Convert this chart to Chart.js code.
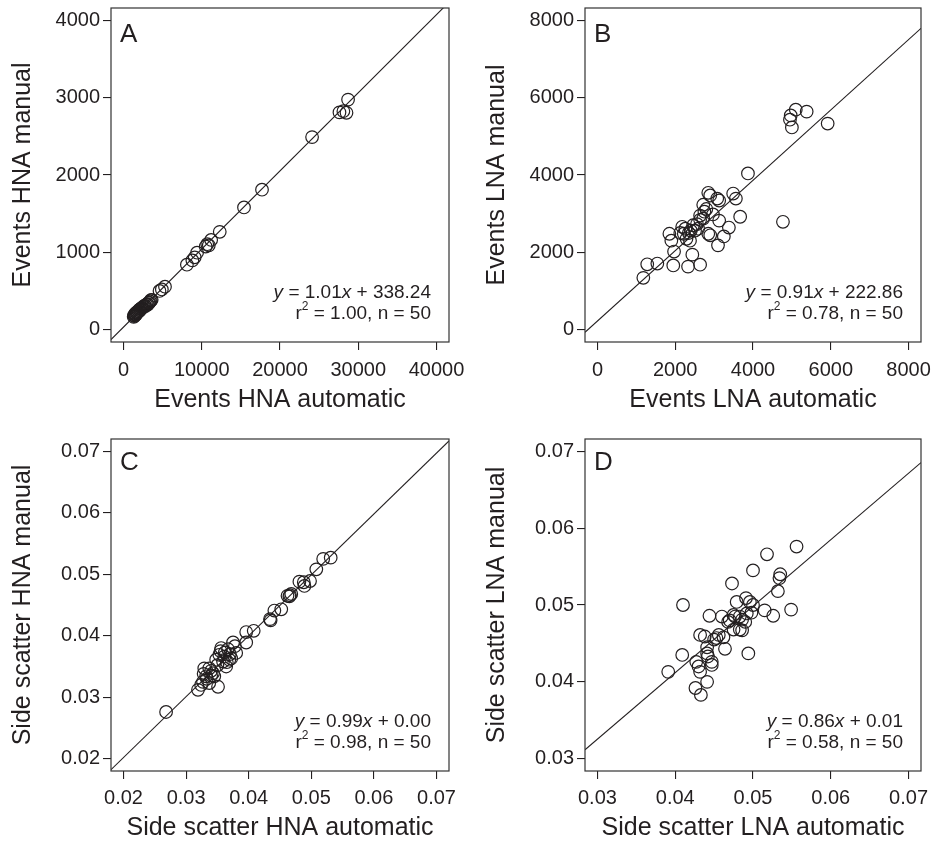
<!DOCTYPE html>
<html>
<head>
<meta charset="utf-8">
<script src="https://cdn.jsdelivr.net/npm/chart.js@4.4.1/dist/chart.umd.min.js"></script>
<style>
  html, body { margin: 0; padding: 0; background: #fff; }
  #wrap { position: relative; width: 935px; height: 842px; }
  #wrap canvas { position: absolute; }
</style>
</head>
<body>
<div id="wrap">
  <canvas id="panelA" width="467" height="420" style="left:0;top:0"></canvas>
  <canvas id="panelB" width="468" height="420" style="left:467px;top:0"></canvas>
  <canvas id="panelC" width="467" height="422" style="left:0;top:420px"></canvas>
  <canvas id="panelD" width="468" height="422" style="left:467px;top:420px"></canvas>
</div>
<script>
// Panel A - events HNA (automatic vs manual)
const aAuto = [28700, 27600, 28100, 28500, 24100, 17700, 15400, 12300, 11200, 10700,
  10900, 10500, 9400, 9100, 8800, 8100, 5300, 4900, 4600,
  1300, 1350, 1400, 1450, 1500, 1550, 1600, 1650, 1700, 1750, 1800, 1900, 1950, 2000,
  2100, 2150, 2200, 2300, 2400, 2500, 2600, 2700, 2800, 2900, 3000, 3100, 3200, 3300,
  3400, 3500, 3600];
const aManual = [2975, 2810, 2825, 2805, 2490, 1810, 1580, 1265, 1160, 1105,
  1090, 1075, 995, 935, 895, 840, 555, 520, 500,
  165, 185, 175, 200, 190, 210, 195, 220, 215, 230, 225, 240, 235, 255,
  250, 265, 270, 275, 280, 295, 300, 310, 305, 320, 330, 325, 345, 350,
  365, 380, 385];

// Panel B - events LNA
const bAuto = [5100, 5380, 4970, 4950, 5000, 5920, 3870, 4770, 2850, 2900,
  3490, 3560, 3080, 3130, 2720, 2750, 2970, 3670, 3130, 2640,
  2640, 2720, 3380, 3250, 3100, 2900, 2850, 2590, 2510, 2460,
  2380, 2350, 2260, 2220, 2180, 2130, 2290, 1850, 1900, 1970,
  2440, 1950, 2330, 2640, 1540, 1280, 1180, 2560, 2800, 2400];
const bManual = [5690, 5640, 5540, 5430, 5230, 5330, 4040, 2790, 3540, 3470,
  3520, 3390, 3390, 3340, 3230, 3050, 2980, 2920, 2820, 2950,
  2840, 2870, 2640, 2410, 2180, 2440, 2480, 2610, 2560, 2700,
  2300, 2500, 2610, 2480, 2660, 2500, 2350, 2480, 2300, 2020,
  1940, 1660, 1630, 1680, 1710, 1690, 1340, 2730, 3120, 2560];

// Panel C - side scatter HNA
const cAuto = [0.0268, 0.0531, 0.0519, 0.0508, 0.0498, 0.0488, 0.0481, 0.0489, 0.0466, 0.0462,
  0.0468, 0.0465, 0.0452, 0.0441, 0.0434, 0.0435, 0.0408, 0.0396, 0.0396, 0.0375,
  0.0356, 0.0367, 0.0353, 0.0361, 0.0372, 0.0380, 0.0364, 0.0348, 0.0369, 0.0359,
  0.0329, 0.0337, 0.0343, 0.0332, 0.0327, 0.0337, 0.0351, 0.0319, 0.0324, 0.0345,
  0.0340, 0.0333, 0.0350, 0.0362, 0.0370, 0.0355, 0.0340, 0.0328, 0.0365, 0.0378];
const cManual = [0.0276, 0.0527, 0.0525, 0.0508, 0.0489, 0.0487, 0.0488, 0.0481, 0.0466, 0.0465,
  0.0468, 0.0464, 0.0443, 0.0441, 0.0427, 0.0425, 0.0408, 0.0406, 0.0389, 0.0389,
  0.0380, 0.0378, 0.0369, 0.0366, 0.0363, 0.0372, 0.0350, 0.0361, 0.0361, 0.0358,
  0.0347, 0.0347, 0.0339, 0.0334, 0.0325, 0.0323, 0.0317, 0.0312, 0.0320, 0.0334,
  0.0343, 0.0330, 0.0352, 0.0373, 0.0370, 0.0375, 0.0335, 0.0338, 0.0357, 0.0383];

// Panel D - side scatter LNA
const dAuto = [0.0556, 0.0518, 0.0500, 0.0473, 0.0535, 0.0534, 0.0532, 0.0549, 0.0526, 0.0515,
  0.0410, 0.0491, 0.0496, 0.0500, 0.0479, 0.0498, 0.0492, 0.0460, 0.0444, 0.0475,
  0.0477, 0.0468, 0.0486, 0.0490, 0.0475, 0.0486, 0.0456, 0.0453, 0.0450, 0.0462,
  0.0432, 0.0438, 0.0441, 0.0464, 0.0409, 0.0494, 0.0442, 0.0427, 0.0430, 0.0432,
  0.0447, 0.0391, 0.0441, 0.0426, 0.0433, 0.0483, 0.0441, 0.0447, 0.0483, 0.0470];
const dManual = [0.0576, 0.0566, 0.0545, 0.0528, 0.0540, 0.0535, 0.0518, 0.0494, 0.0486, 0.0493,
  0.0500, 0.0509, 0.0504, 0.0500, 0.0504, 0.0490, 0.0489, 0.0485, 0.0486, 0.0487,
  0.0485, 0.0478, 0.0481, 0.0478, 0.0468, 0.0467, 0.0461, 0.0457, 0.0455, 0.0458,
  0.0461, 0.0459, 0.0445, 0.0443, 0.0435, 0.0437, 0.0433, 0.0426, 0.0420, 0.0413,
  0.0422, 0.0413, 0.0400, 0.0392, 0.0383, 0.0468, 0.0437, 0.0426, 0.0485, 0.0480];

// tick labels
const ticksAX = [0, 10000, 20000, 30000, 40000];
const ticksAY = [0, 1000, 2000, 3000, 4000];
const ticksB = [0, 2000, 4000, 6000, 8000];
const ticksC = [0.02, 0.03, 0.04, 0.05, 0.06, 0.07];
const ticksD = [0.03, 0.04, 0.05, 0.06, 0.07];

// fitted lines [slope, intercept]
const fitA = [0.101, 33.82];
const fitB = [0.91, 222.86];
const fitC = [0.99, 0.0004];
const fitD = [0.865, 0.0066];

const INK = '#231f20';
const FONT = "'Liberation Sans', Arial, Helvetica, sans-serif";

// draw the box, the panel letter and the regression text
const panelDecor = {
  id: 'panelDecor',
  afterDraw(chart, args, opts) {
    const ctx = chart.ctx;
    const a = chart.chartArea;
    ctx.save();
    ctx.strokeStyle = '#333';
    ctx.lineWidth = 1.2;
    ctx.strokeRect(a.left, a.top, a.right - a.left, a.bottom - a.top);

    ctx.fillStyle = INK;
    ctx.font = '26px ' + FONT;
    ctx.textBaseline = 'alphabetic';
    ctx.textAlign = 'left';
    ctx.fillText(opts.letter, a.left + 9, a.top + opts.letterDy);

    const lines = [
      [{ t: 'y', it: true }, { t: ' = ' + opts.slope }, { t: 'x', it: true }, { t: ' + ' + opts.icpt }],
      [{ t: 'r' }, { t: '2', sup: true }, { t: ' = ' + opts.r2 + ', n = 50' }]
    ];
    ctx.textBaseline = 'middle';
    const ys = [a.bottom - 49, a.bottom - 28];
    lines.forEach((segs, i) => {
      const fontOf = s => s.sup ? '12px ' + FONT : (s.it ? 'italic 19px ' : '19px ') + FONT;
      let w = 0;
      segs.forEach(s => { ctx.font = fontOf(s); w += ctx.measureText(s.t).width; });
      let x = a.right - 18 - w;
      segs.forEach(s => {
        ctx.font = fontOf(s);
        ctx.fillText(s.t, x, s.sup ? ys[i] - 7 : ys[i]);
        x += ctx.measureText(s.t).width;
      });
    });
    ctx.restore();
  }
};

function makePanel(id, cfg) {
  const pts = cfg.xs.map((x, i) => ({ x: x, y: cfg.ys[i] }));
  const [m, b] = cfg.fit;
  const fitLine = [
    { x: cfg.xmin, y: m * cfg.xmin + b },
    { x: cfg.xmax, y: m * cfg.xmax + b }
  ];
  const fmt = v => cfg.dec ? v.toFixed(cfg.dec) : String(v);
  const tickStyle = { color: INK, font: { family: FONT, size: 20 } };
  const gridStyle = { drawOnChartArea: false, drawTicks: true, tickLength: 8, color: INK, tickColor: INK, lineWidth: 1.1 };

  return new Chart(document.getElementById(id), {
    type: 'scatter',
    data: {
      datasets: [
        {
          type: 'line',
          data: fitLine,
          borderColor: INK,
          borderWidth: 1.1,
          pointRadius: 0,
          fill: false
        },
        {
          data: pts,
          pointStyle: 'circle',
          pointRadius: 6.3,
          pointBorderWidth: 1.2,
          pointBorderColor: INK,
          pointBackgroundColor: 'rgba(0,0,0,0)'
        }
      ]
    },
    options: {
      responsive: false,
      animation: false,
      devicePixelRatio: 1,
      layout: { padding: { top: cfg.padTop, right: cfg.padRight, left: 0, bottom: 0 } },
      plugins: {
        legend: { display: false },
        tooltip: { enabled: false },
        panelDecor: cfg.note
      },
      scales: {
        x: {
          type: 'linear',
          min: cfg.xmin,
          max: cfg.xmax,
          grid: gridStyle,
          border: { display: false },
          ticks: Object.assign({ padding: cfg.xTickPad, maxRotation: 0, callback: v => fmt(v) }, tickStyle),
          afterBuildTicks: s => { s.ticks = cfg.xTicks.map(v => ({ value: v })); },
          afterFit: s => { s.height = cfg.xAxisH; s.paddingLeft = 0; s.paddingRight = 0; },
          title: {
            display: true, text: cfg.xTitle, color: INK,
            font: { family: FONT, size: 25, lineHeight: 1.12 },
            padding: { top: 0, bottom: cfg.xTitlePad }
          }
        },
        y: {
          type: 'linear',
          min: cfg.ymin,
          max: cfg.ymax,
          grid: gridStyle,
          border: { display: false },
          ticks: Object.assign({ padding: 3, callback: v => fmt(v) }, tickStyle),
          afterBuildTicks: s => { s.ticks = cfg.yTicks.map(v => ({ value: v })); },
          afterFit: s => { s.width = cfg.yAxisW; s.paddingTop = 0; s.paddingBottom = 0; },
          title: {
            display: true, text: cfg.yTitle, color: INK,
            font: { family: FONT, size: 25, lineHeight: 1.12 },
            padding: { top: cfg.yTitlePad, bottom: 0 }
          }
        }
      }
    },
    plugins: [panelDecor]
  });
}

makePanel('panelA', {
  xs: aAuto, ys: aManual, fit: fitA,
  xmin: -1600, xmax: 41600, ymin: -160, ymax: 4160,
  xTicks: ticksAX, yTicks: ticksAY, dec: 0,
  padTop: 8, padRight: 18, yAxisW: 111, xAxisH: 78,
  xTickPad: 8, xTitlePad: 6, yTitlePad: 9,
  xTitle: 'Events HNA automatic', yTitle: 'Events HNA manual',
  note: { letter: 'A', letterDy: 34, slope: '1.01', icpt: '338.24', r2: '1.00' }
});

makePanel('panelB', {
  xs: bAuto, ys: bManual, fit: fitB,
  xmin: -320, xmax: 8320, ymin: -320, ymax: 8320,
  xTicks: ticksB, yTicks: ticksB, dec: 0,
  padTop: 8, padRight: 14, yAxisW: 118, xAxisH: 78,
  xTickPad: 8, xTitlePad: 6, yTitlePad: 16,
  xTitle: 'Events LNA automatic', yTitle: 'Events LNA manual',
  note: { letter: 'B', letterDy: 34, slope: '0.91', icpt: '222.86', r2: '0.78' }
});

makePanel('panelC', {
  xs: cAuto, ys: cManual, fit: fitC,
  xmin: 0.018, xmax: 0.072, ymin: 0.018, ymax: 0.072,
  xTicks: ticksC, yTicks: ticksC, dec: 2,
  padTop: 19, padRight: 18, yAxisW: 111, xAxisH: 71,
  xTickPad: 7, xTitlePad: 0, yTitlePad: 9,
  xTitle: 'Side scatter HNA automatic', yTitle: 'Side scatter HNA manual',
  note: { letter: 'C', letterDy: 31, slope: '0.99', icpt: '0.00', r2: '0.98' }
});

makePanel('panelD', {
  xs: dAuto, ys: dManual, fit: fitD,
  xmin: 0.0284, xmax: 0.0716, ymin: 0.0284, ymax: 0.0716,
  xTicks: ticksD, yTicks: ticksD, dec: 2,
  padTop: 19, padRight: 14, yAxisW: 118, xAxisH: 71,
  xTickPad: 7, xTitlePad: 0, yTitlePad: 16,
  xTitle: 'Side scatter LNA automatic', yTitle: 'Side scatter LNA manual',
  note: { letter: 'D', letterDy: 31, slope: '0.86', icpt: '0.01', r2: '0.58' }
});
</script>
</body>
</html>
